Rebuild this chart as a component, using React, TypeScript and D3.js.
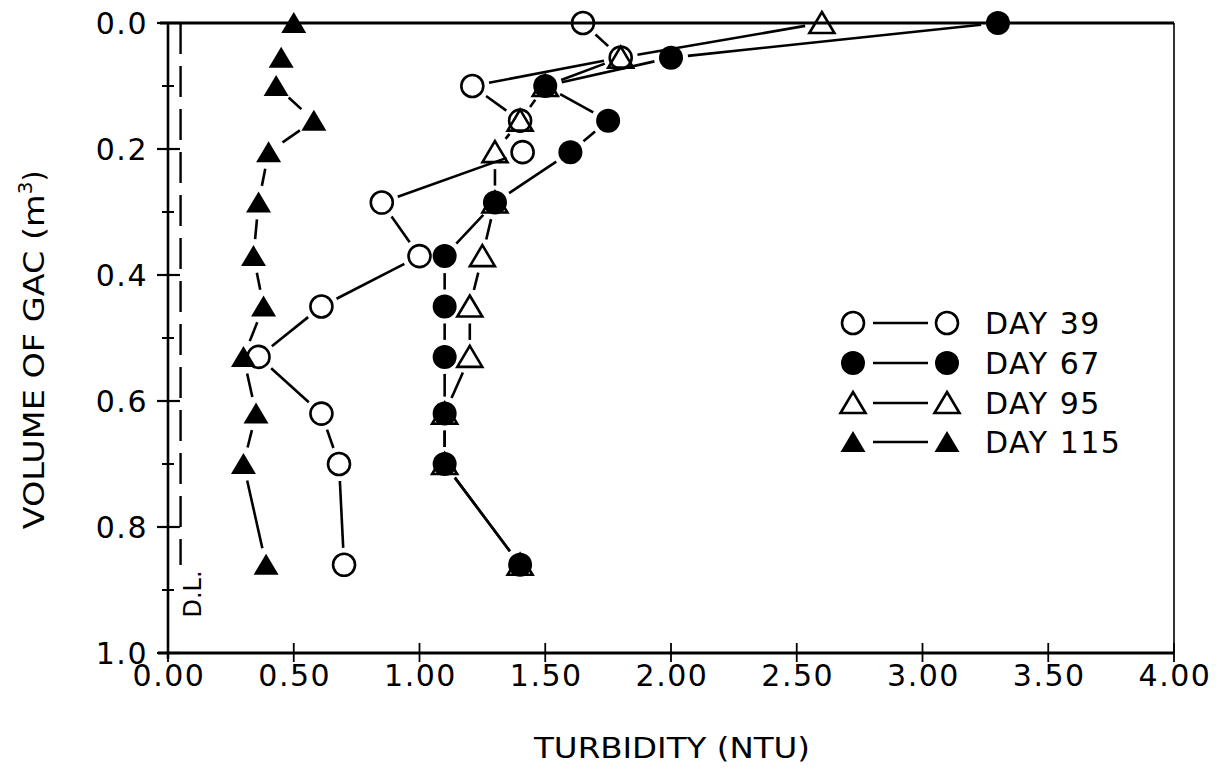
import React from "react";
import * as d3 from "d3";

// GAC volume levels (m^3) at which turbidity was sampled
const volumes = [0, 0.055, 0.1, 0.155, 0.205, 0.285, 0.37, 0.45, 0.53, 0.62, 0.7, 0.86];

// Turbidity (NTU) per day
const day39 = [1.65, 1.8, 1.21, 1.4, 1.41, 0.85, 1.0, 0.61, 0.36, 0.61, 0.68, 0.7];
const day67 = [3.3, 2.0, 1.5, 1.75, 1.6, 1.3, 1.1, 1.1, 1.1, 1.1, 1.1, 1.4];
const day95 = [2.6, 1.8, 1.5, 1.4, 1.3, 1.3, 1.25, 1.2, 1.2, 1.1, 1.1, 1.4];
const day115 = [0.5, 0.45, 0.43, 0.58, 0.4, 0.36, 0.34, 0.38, 0.3, 0.35, 0.3, 0.39];

const xTicks = [0, 0.5, 1, 1.5, 2, 2.5, 3, 3.5, 4];
const yTicks = [0, 0.2, 0.4, 0.6, 0.8, 1.0];
const yMinorTicks = [0.1, 0.3, 0.5, 0.7, 0.9];
const detectionLimit = 0.05;

const legendLabels = ["DAY 39", "DAY 67", "DAY 95", "DAY 115"];
const seriesKinds = ["openCircle", "filledCircle", "openTriangle", "filledTriangle"];

const W = 1225;
const H = 771;
const x = d3.scaleLinear().domain([0, 4]).range([168, 1174]);
const y = d3.scaleLinear().domain([0, 1]).range([23, 653]);

const FONT = "'DejaVu Sans', Verdana, sans-serif";

function Marker({ kind, cx, cy }: { kind: string; cx: number; cy: number }) {
  if (kind === "openCircle")
    return <circle cx={cx} cy={cy} r={11} fill="none" stroke="#000" strokeWidth={2.6} />;
  if (kind === "filledCircle") return <circle cx={cx} cy={cy} r={12} fill="#000" />;
  const w = 12.5;
  const path = `M${cx},${cy - 11} L${cx + w},${cy + 10} L${cx - w},${cy + 10} Z`;
  if (kind === "openTriangle")
    return <path d={path} fill="none" stroke="#000" strokeWidth={2.6} strokeLinejoin="miter" />;
  return <path d={path} fill="#000" />;
}

function gappedSegments(vals: number[], gap: number) {
  const pts = vals.map((v, i) => [x(v), y(volumes[i])]);
  const segs: string[] = [];
  for (let i = 0; i < pts.length - 1; i++) {
    const [x1, y1] = pts[i];
    const [x2, y2] = pts[i + 1];
    const dx = x2 - x1;
    const dy = y2 - y1;
    const d = Math.hypot(dx, dy);
    if (d <= 2 * gap + 3) continue;
    const ux = dx / d;
    const uy = dy / d;
    const line = d3.line();
    segs.push(
      line([
        [x1 + ux * gap, y1 + uy * gap],
        [x2 - ux * gap, y2 - uy * gap],
      ]) as string
    );
  }
  return segs;
}

export default function App() {
  const series = [day95, day39, day67, day115];
  const kinds = ["openTriangle", "openCircle", "filledCircle", "filledTriangle"];
  const legendY = [323, 363, 403, 442];

  return (
    <svg
      width={W}
      height={H}
      style={{ position: "absolute", left: 0, top: 0, background: "#fff" }}
      fontFamily={FONT}
    >
      <rect x={0} y={0} width={W} height={H} fill="#fff" />

      {/* frame: top and right */}
      <line x1={160} x2={x(4)} y1={y(0)} y2={y(0)} stroke="#000" strokeWidth={3} />
      <line x1={x(4)} x2={x(4)} y1={y(0)} y2={y(1)} stroke="#000" strokeWidth={1.6} />

      {/* axes */}
      <line x1={x(0)} x2={x(0)} y1={y(0)} y2={y(1) + 6} stroke="#000" strokeWidth={2.6} />
      <line x1={158} x2={x(4)} y1={y(1)} y2={y(1)} stroke="#000" strokeWidth={3} />

      {/* y ticks */}
      {yTicks.map((t) => (
        <g key={"yt" + t}>
          <line x1={x(0) - 11} x2={x(0) + 12} y1={y(t)} y2={y(t)} stroke="#000" strokeWidth={2.2} />
          <text
            x={148}
            y={y(t)}
            dy="0.36em"
            textAnchor="end"
            fontSize={30}
            letterSpacing={1.5}
          >
            {t.toFixed(1)}
          </text>
        </g>
      ))}
      {yMinorTicks.map((t) => (
        <line key={"ym" + t} x1={x(0) - 6} x2={x(0) + 6} y1={y(t)} y2={y(t)} stroke="#000" strokeWidth={2} />
      ))}

      {/* x ticks */}
      {xTicks.map((t) => (
        <g key={"xt" + t}>
          <line x1={x(t)} x2={x(t)} y1={y(1) - 10} y2={y(1) + 9} stroke="#000" strokeWidth={1.8} />
          <text x={x(t) + 1} y={y(1) + 33} textAnchor="middle" fontSize={30} letterSpacing={1.5}>
            {t.toFixed(2)}
          </text>
        </g>
      ))}

      {/* axis titles */}
      <text
        x={672}
        y={758}
        textAnchor="middle"
        fontSize={28}
        textLength={276}
        lengthAdjust="spacingAndGlyphs"
      >
        TURBIDITY (NTU)
      </text>
      <text
        transform={`translate(44, ${350}) rotate(-90)`}
        textAnchor="middle"
        fontSize={28}
      >
        <tspan textLength={335} lengthAdjust="spacingAndGlyphs">VOLUME OF GAC (m</tspan>
        <tspan fontSize={20} dy={-12}>3</tspan>
        <tspan dy={12}>)</tspan>
      </text>

      {/* detection limit */}
      <line
        x1={x(detectionLimit)}
        x2={x(detectionLimit)}
        y1={y(0)}
        y2={565}
        stroke="#000"
        strokeWidth={2.4}
        strokeDasharray="31 12"
      />
      <text
        transform={`translate(${x(detectionLimit) + 20}, 594) rotate(-90)`}
        textAnchor="middle"
        fontSize={24}
      >
        D.L.
      </text>

      {/* series lines */}
      {series.map((s, i) =>
        gappedSegments(s, 17).map((d, j) => (
          <path key={`l${i}-${j}`} d={d} fill="none" stroke="#000" strokeWidth={2.6} />
        ))
      )}

      {/* markers */}
      {series.map((s, i) =>
        s.map((v, j) => <Marker key={`m${i}-${j}`} kind={kinds[i]} cx={x(v)} cy={y(volumes[j])} />)
      )}

      {/* legend */}
      {legendLabels.map((lab, i) => (
        <g key={lab}>
          <Marker kind={seriesKinds[i]} cx={853} cy={legendY[i]} />
          <line x1={873} x2={928} y1={legendY[i]} y2={legendY[i]} stroke="#000" strokeWidth={2.6} />
          <Marker kind={seriesKinds[i]} cx={947} cy={legendY[i]} />
          <text x={985} y={legendY[i]} dy="0.36em" fontSize={30} letterSpacing={1.5}>
            {lab}
          </text>
        </g>
      ))}
    </svg>
  );
}
